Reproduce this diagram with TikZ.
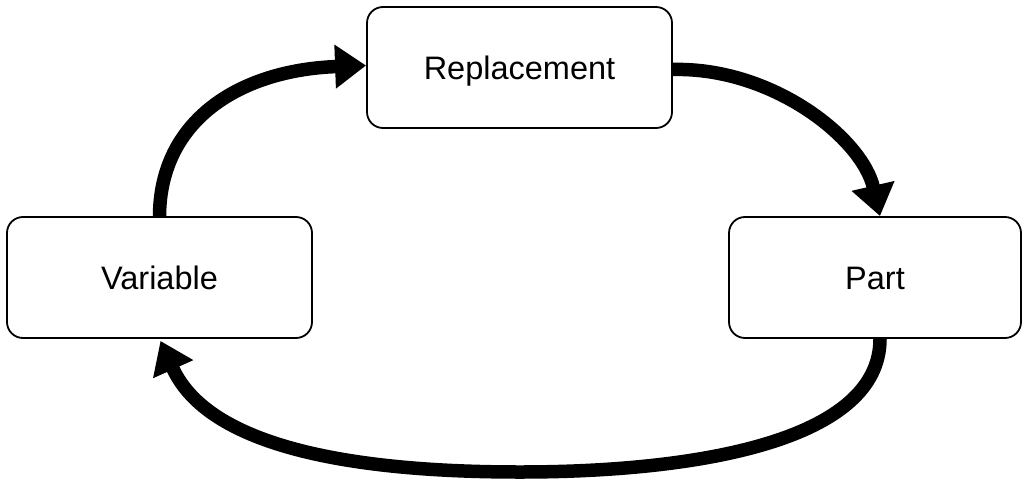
\documentclass[tikz,border=0pt]{standalone}
\usepackage{fontspec}
\setmainfont{Liberation Sans}
\usetikzlibrary{arrows.meta}
\begin{document}
\begin{tikzpicture}[x=1pt,y=-1pt,
  box/.style={draw, line width=1.8pt, rounded corners=16pt, minimum width=305pt, minimum height=121pt, inner sep=0pt, text height=24pt, text depth=0pt, font=\fontsize{32.5}{38}\selectfont},
  flow/.style={line width=13.5pt, -{Triangle[length=31pt,width=42pt]}}]
\useasboundingbox (0,0) rectangle (1024,492);
\node[box] (rep) at (519.5,67.5) {Replacement};
\node[box] (var) at (159.5,277.5) {Variable};
\node[box, minimum width=292pt] (part) at (875,277.5) {Part};
\coordinate (a1) at ([xshift=0pt]var.north);
\coordinate (a2) at ([xshift=5pt]part.north);
\coordinate (a3) at ([xshift=5pt]part.south);
\coordinate (a4) at ([xshift=1pt,yshift=-2pt]var.south);
\draw[flow] (a1) .. controls (160,120) and (240,70) .. ([yshift=2pt]rep.west);
\draw[flow] ([yshift=-2pt]rep.east) .. controls (772,67) and (862,138) .. (a2);
\draw[flow] (a3) .. controls (880,440) and (700,472) .. (520,472) .. controls (330,472) and (205,440) .. (a4);
\end{tikzpicture}
\end{document}
